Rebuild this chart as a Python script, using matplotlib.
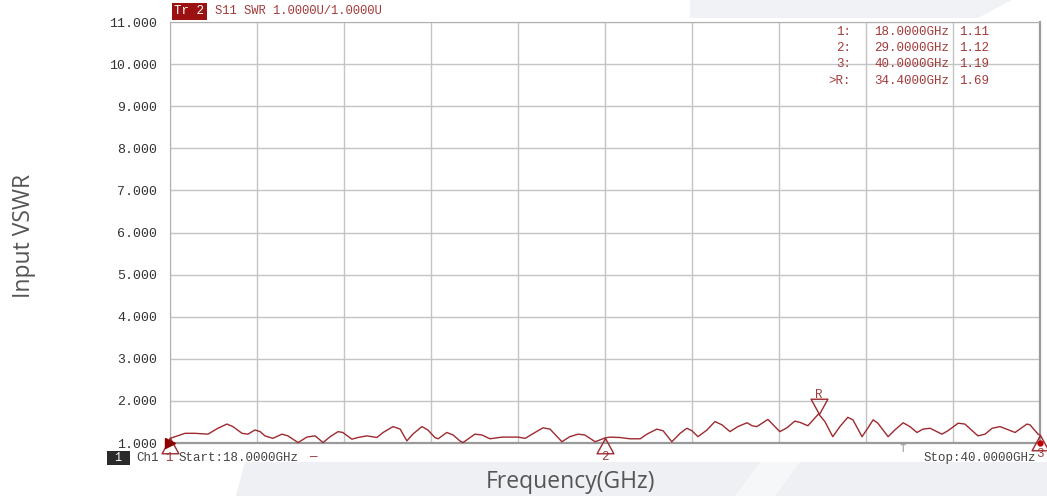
import matplotlib.pyplot as plt
from matplotlib.patches import Polygon
from matplotlib.path import Path
import numpy as np

# trace S11 SWR, frecuencias en GHz
freq = [18.00, 18.38, 18.63, 18.96, 19.21, 19.44, 19.59, 19.82, 19.97, 20.15,
        20.28, 20.40, 20.60, 20.83, 20.98, 21.24, 21.46, 21.67, 21.87, 22.05,
        22.25, 22.37, 22.60, 22.75, 22.98, 23.23, 23.39, 23.64, 23.82, 23.99,
        24.14, 24.37, 24.52, 24.70, 24.78, 25.00, 25.16, 25.33, 25.41, 25.71,
        25.89, 26.09, 26.40, 26.80, 26.98, 27.23, 27.43, 27.61, 27.91, 28.11,
        28.32, 28.49, 28.75, 28.92, 29.00, 29.13, 29.38, 29.63, 29.89, 30.06,
        30.31, 30.47, 30.69, 30.90, 31.07, 31.20, 31.35, 31.58, 31.78, 31.96,
        32.16, 32.36, 32.59, 32.72, 32.84, 33.12, 33.42, 33.60, 33.80, 33.93,
        34.13, 34.40, 34.56, 34.76, 34.94, 35.14, 35.27, 35.50, 35.65, 35.78,
        35.90, 36.16, 36.33, 36.54, 36.71, 36.89, 37.04, 37.22, 37.52, 37.67,
        37.93, 38.10, 38.43, 38.61, 38.79, 38.99, 39.37, 39.67, 39.75, 39.95,
        40.00]
swr = [1.11, 1.23, 1.23, 1.21, 1.35, 1.45, 1.39, 1.23, 1.21, 1.31,
       1.27, 1.17, 1.11, 1.21, 1.17, 1.01, 1.14, 1.17, 1.01, 1.15,
       1.27, 1.25, 1.09, 1.13, 1.17, 1.13, 1.25, 1.39, 1.33, 1.05,
       1.21, 1.39, 1.31, 1.13, 1.10, 1.25, 1.19, 1.05, 1.01, 1.21,
       1.19, 1.10, 1.14, 1.14, 1.11, 1.25, 1.36, 1.33, 1.03, 1.15,
       1.21, 1.19, 1.03, 1.09, 1.12, 1.14, 1.13, 1.10, 1.10, 1.21,
       1.33, 1.29, 1.03, 1.23, 1.35, 1.29, 1.15, 1.31, 1.51, 1.43,
       1.27, 1.39, 1.48, 1.41, 1.39, 1.56, 1.27, 1.36, 1.52, 1.49,
       1.41, 1.69, 1.51, 1.15, 1.39, 1.61, 1.55, 1.15, 1.36, 1.55,
       1.47, 1.15, 1.31, 1.48, 1.39, 1.25, 1.33, 1.35, 1.21, 1.29,
       1.47, 1.45, 1.17, 1.21, 1.35, 1.39, 1.25, 1.45, 1.43, 1.21,
       1.19]

# marcadores
mk_names = ["1", "2", "3"]
mk_freq = [18.0, 29.0, 40.0]
mk_val = [1.11, 1.12, 1.19]
ref_freq = 34.4
ref_val = 1.69

ytick_vals = [1, 2, 3, 4, 5, 6, 7, 8, 9, 10, 11]
ytick_labels = ["1.000", "2.000", "3.000", "4.000", "5.000", "6.000",
                "7.000", "8.000", "9.000", "10.000", "11.000"]

RED = "#9e2a2f"
TXT = "#a33a3a"
MONO = "Liberation Mono"

W, H = 1047, 496
fig = plt.figure(figsize=(W / 100, H / 100), dpi=100)
fig.patch.set_facecolor("white")


def px(x, y):
    # pixeles -> coordenadas de figura
    return (x / W, 1 - y / H)


# marca de agua del fondo
for pts, c in [
    ([(245, 462), (1047, 462), (1047, 496), (236, 496)], "#eef0f3"),
    ([(760, 462), (800, 462), (775, 496), (735, 496)], "#f6f7f9"),
    ([(690, 0), (1012, 0), (978, 18), (690, 18)], "#f1f2f5"),
]:
    fig.patches.append(Polygon([px(*p) for p in pts], closed=True,
                               transform=fig.transFigure, facecolor=c,
                               edgecolor="none", zorder=0))

ax = fig.add_axes([170 / W, 1 - 443 / H, 870 / W, 421 / H])
ax.set_facecolor("white")
ax.set_xlim(18, 40)
ax.set_ylim(1, 11)
ax.set_xticks(np.linspace(18, 40, 11))
ax.set_yticks(ytick_vals)
ax.set_yticklabels(ytick_labels, fontfamily=MONO, fontsize=9.5, color="#333333")
ax.tick_params(axis="x", length=0, labelbottom=False)
ax.tick_params(axis="y", length=0, pad=9)
ax.grid(True, color="#c4c4c4", linewidth=1)
for s in ["left", "top"]:
    ax.spines[s].set_color("#b0b0b0")
for s in ["bottom", "right"]:
    ax.spines[s].set_color("#9a9a9a")
    ax.spines[s].set_linewidth(1.6)

ax.plot(freq, swr, color=RED, linewidth=1.0, clip_on=False, zorder=3)

# triangulos con el vertice en el punto
tri_up = Path([(0, 0), (-0.55, -1), (0.55, -1), (0, 0)])   # base debajo
tri_dn = Path([(0, 0), (-0.55, 1), (0.55, 1), (0, 0)])     # base encima
for name, f, v in zip(mk_names, mk_freq, mk_val):
    ax.plot([f], [v], marker=tri_up, markersize=22, markerfacecolor="none",
            markeredgecolor=RED, markeredgewidth=1.0, clip_on=False, zorder=4)
    ax.annotate(name, (f, v), xytext=(-1 if name == "1" else 0, -14),
                textcoords="offset points", ha="center", va="center",
                fontfamily=MONO, fontsize=9, color=TXT, annotation_clip=False)
ax.plot([ref_freq], [ref_val], marker=tri_dn, markersize=22,
        markerfacecolor="none", markeredgecolor=RED, markeredgewidth=1.0,
        clip_on=False, zorder=4)
ax.annotate("R", (ref_freq, ref_val), xytext=(0, 14), textcoords="offset points",
            ha="center", va="center", fontfamily=MONO, fontsize=9, color=TXT,
            annotation_clip=False)

# indicador de referencia a la izquierda y punto final
ax.plot([18], [1], marker=">", markersize=7, color="#8b0000", clip_on=False,
        zorder=5)
ax.plot([40], [1], marker="o", markersize=3.5, color="#c00000", clip_on=False,
        zorder=5)

# encabezado de traza
fig.text(*px(174, 11), "Tr 2", fontfamily=MONO, fontsize=9, color="white",
         va="center", ha="left",
         bbox=dict(boxstyle="square,pad=0.2", facecolor="#9b1010",
                   edgecolor="none"))
fig.text(*px(215, 11), "S11 SWR 1.0000U/1.0000U", fontfamily=MONO,
         fontsize=8.7, color=TXT, va="center", ha="left")

# tabla de marcadores
rows = ["1:", "2:", "3:", ">R:"]
row_f = ["%.4fGHz" % f for f in mk_freq] + ["%.4fGHz" % ref_freq]
row_v = ["%.2f" % v for v in mk_val] + ["%.2f" % ref_val]
for i, (a, b, c) in enumerate(zip(rows, row_f, row_v)):
    y = 32 + i * 16.2
    fig.text(*px(851, y), a, fontfamily=MONO, fontsize=9, color=TXT,
             ha="right", va="center")
    fig.text(*px(874, y), b, fontfamily=MONO, fontsize=9, color=TXT,
             ha="left", va="center")
    fig.text(*px(959, y), c, fontfamily=MONO, fontsize=9, color=TXT,
             ha="left", va="center")

# barra inferior del analizador
fig.text(*px(108, 458), " 1 ", fontfamily=MONO, fontsize=8.5, color="white",
         va="center", ha="left",
         bbox=dict(boxstyle="square,pad=0.1", facecolor="#2b2b2b",
                   edgecolor="none"))
fig.text(*px(136, 458), "Ch1", fontfamily=MONO, fontsize=9, color="#444444",
         va="center", ha="left")
fig.text(*px(179, 458), "Start:18.0000GHz", fontfamily=MONO, fontsize=9,
         color="#444444", va="center", ha="left")
fig.text(*px(309, 457), "\u2014", fontfamily=MONO, fontsize=9, color=RED,
         va="center", ha="left")
fig.text(*px(1036, 458), "Stop:40.0000GHz", fontfamily=MONO, fontsize=9,
         color="#444444", va="center", ha="right")
fig.text(*px(903, 449), "\u2191", fontfamily="DejaVu Sans", fontsize=9,
         color="#999999", va="center", ha="center")

# etiquetas de ejes
fig.text(*px(24, 236), "Input VSWR", fontfamily="Open Sans", fontsize=16.5,
         color="#555555", rotation=90, va="center", ha="center")
fig.text(*px(570, 482), "Frequency(GHz)", fontfamily="Open Sans", fontsize=16.5,
         color="#555555", va="center", ha="center")

fig.savefig("out.png", dpi=100)
